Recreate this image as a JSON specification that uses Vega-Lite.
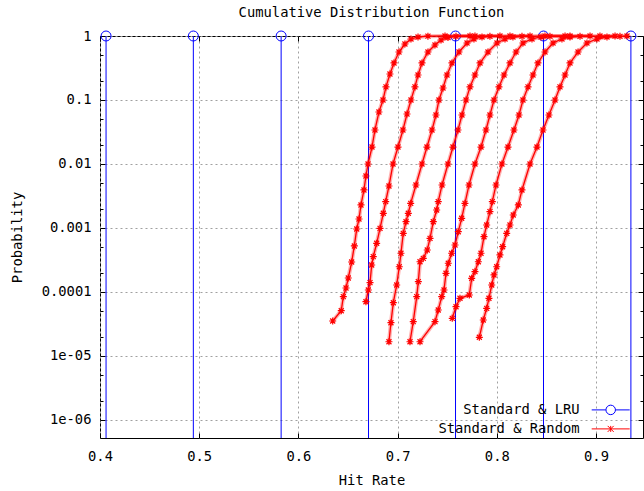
{
"$schema": "https://vega.github.io/schema/vega-lite/v6.json",
"width": 543, "height": 402,
"autosize": {"type": "none"},
"padding": {"left": 100, "top": 36, "right": 1, "bottom": 53},
"background": "white",
"title": {"text": "Cumulative Distribution Function", "frame": "group", "anchor": "middle", "baseline": "alphabetic", "offset": 5, "dy": 8, "font": "DejaVu Sans Mono", "fontSize": 13.8, "fontWeight": "normal", "color": "#000"},
"config": {
  "view": {"stroke": "#000", "strokeWidth": 1},
  "axis": {"labelFont": "DejaVu Sans Mono", "labelFontSize": 13.8, "labelColor": "#000", "titleFont": "DejaVu Sans Mono", "titleFontSize": 13.8, "titleFontWeight": "normal", "titleColor": "#000", "domain": false, "tickColor": "#000", "gridColor": "#a0a0a0", "gridDash": [2,3], "gridWidth": 1}
},
"datasets": {
  "lru": [{"c":1,"x":0.4061,"p":1},{"c":2,"x":0.4941,"p":1},{"c":3,"x":0.5826,"p":1},{"c":4,"x":0.6707,"p":1},{"c":5,"x":0.7584,"p":1},{"c":6,"x":0.8471,"p":1},{"c":7,"x":0.9352,"p":1}],
  "rnd": [
{"c":1,"x":0.6346,"p":3.52e-5},{"c":1,"x":0.6432,"p":5.1e-5},{"c":1,"x":0.6453,"p":8.45e-5},{"c":1,"x":0.648,"p":1.155e-4},{"c":1,"x":0.6503,"p":1.655e-4},{"c":1,"x":0.6537,"p":2.94e-4},{"c":1,"x":0.6564,"p":5.24e-4},{"c":1,"x":0.6588,"p":9.65e-4},{"c":1,"x":0.6611,"p":1.383e-3},{"c":1,"x":0.6631,"p":2.29e-3},{"c":1,"x":0.6661,"p":3.93e-3},{"c":1,"x":0.6681,"p":6.49e-3},{"c":1,"x":0.6702,"p":0.01},{"c":1,"x":0.6742,"p":0.0184},{"c":1,"x":0.6772,"p":0.034},{"c":1,"x":0.6812,"p":0.0649},{"c":1,"x":0.6853,"p":0.1},{"c":1,"x":0.6883,"p":0.16},{"c":1,"x":0.6923,"p":0.255},{"c":1,"x":0.6964,"p":0.379},{"c":1,"x":0.7014,"p":0.562},{"c":1,"x":0.7074,"p":0.75},{"c":1,"x":0.7135,"p":0.898},{"c":1,"x":0.7206,"p":0.965},{"c":1,"x":0.7306,"p":0.993},{"c":1,"x":0.7478,"p":1},{"c":1,"x":0.773,"p":1},
{"c":2,"x":0.6681,"p":7.05e-5},{"c":2,"x":0.6705,"p":1.075e-4},{"c":2,"x":0.6722,"p":1.397e-4},{"c":2,"x":0.6739,"p":2.64e-4},{"c":2,"x":0.6755,"p":3.56e-4},{"c":2,"x":0.6789,"p":5.77e-4},{"c":2,"x":0.6823,"p":9.89e-4},{"c":2,"x":0.6856,"p":1.698e-3},{"c":2,"x":0.688,"p":2.58e-3},{"c":2,"x":0.6913,"p":4.53e-3},{"c":2,"x":0.6954,"p":0.01},{"c":2,"x":0.7004,"p":0.0184},{"c":2,"x":0.7054,"p":0.034},{"c":2,"x":0.7095,"p":0.0604},{"c":2,"x":0.7135,"p":0.1},{"c":2,"x":0.7175,"p":0.16},{"c":2,"x":0.7206,"p":0.246},{"c":2,"x":0.7246,"p":0.379},{"c":2,"x":0.7306,"p":0.562},{"c":2,"x":0.7377,"p":0.723},{"c":2,"x":0.7438,"p":0.866},{"c":2,"x":0.7508,"p":0.947},{"c":2,"x":0.7589,"p":0.989},{"c":2,"x":0.778,"p":1},{"c":2,"x":0.8032,"p":1},
{"c":3,"x":0.6913,"p":1.67e-5},{"c":3,"x":0.6933,"p":3.31e-5},{"c":3,"x":0.6957,"p":6.8e-5},{"c":3,"x":0.6991,"p":1.286e-4},{"c":3,"x":0.7017,"p":2.48e-4},{"c":3,"x":0.7034,"p":4.03e-4},{"c":3,"x":0.7057,"p":8.26e-4},{"c":3,"x":0.7085,"p":1.254e-3},{"c":3,"x":0.7108,"p":1.698e-3},{"c":3,"x":0.7132,"p":2.43e-3},{"c":3,"x":0.7185,"p":4.7e-3},{"c":3,"x":0.7246,"p":0.01},{"c":3,"x":0.7296,"p":0.0184},{"c":3,"x":0.7347,"p":0.034},{"c":3,"x":0.7387,"p":0.0583},{"c":3,"x":0.7417,"p":0.1},{"c":3,"x":0.7458,"p":0.154},{"c":3,"x":0.7498,"p":0.246},{"c":3,"x":0.7548,"p":0.379},{"c":3,"x":0.7619,"p":0.562},{"c":3,"x":0.77,"p":0.777},{"c":3,"x":0.777,"p":0.898},{"c":3,"x":0.7851,"p":0.965},{"c":3,"x":0.7931,"p":0.989},{"c":3,"x":0.8133,"p":1},{"c":3,"x":0.8335,"p":1},
{"c":4,"x":0.7125,"p":1.67e-5},{"c":4,"x":0.7158,"p":3.44e-5},{"c":4,"x":0.7193,"p":8.45e-5},{"c":4,"x":0.7209,"p":1.449e-4},{"c":4,"x":0.7226,"p":2.97e-4},{"c":4,"x":0.7259,"p":3.36e-4},{"c":4,"x":0.7299,"p":4.53e-4},{"c":4,"x":0.7327,"p":6.9e-4},{"c":4,"x":0.736,"p":1.254e-3},{"c":4,"x":0.7394,"p":1.91e-3},{"c":4,"x":0.741,"p":2.58e-3},{"c":4,"x":0.7448,"p":4.7e-3},{"c":4,"x":0.7508,"p":0.01},{"c":4,"x":0.7558,"p":0.0184},{"c":4,"x":0.7609,"p":0.034},{"c":4,"x":0.7649,"p":0.0583},{"c":4,"x":0.769,"p":0.1},{"c":4,"x":0.773,"p":0.16},{"c":4,"x":0.778,"p":0.246},{"c":4,"x":0.7831,"p":0.379},{"c":4,"x":0.7911,"p":0.562},{"c":4,"x":0.8002,"p":0.777},{"c":4,"x":0.8083,"p":0.898},{"c":4,"x":0.8163,"p":0.965},{"c":4,"x":0.8254,"p":0.989},{"c":4,"x":0.8486,"p":1},{"c":4,"x":0.8688,"p":1},
{"c":5,"x":0.7226,"p":1.67e-5},{"c":5,"x":0.7377,"p":3.44e-5},{"c":5,"x":0.741,"p":5.23e-5},{"c":5,"x":0.7445,"p":8.45e-5},{"c":5,"x":0.7468,"p":1.075e-4},{"c":5,"x":0.7488,"p":1.96e-4},{"c":5,"x":0.7511,"p":2.81e-4},{"c":5,"x":0.7545,"p":4.03e-4},{"c":5,"x":0.7579,"p":5.42e-4},{"c":5,"x":0.7612,"p":8.75e-4},{"c":5,"x":0.7646,"p":1.418e-3},{"c":5,"x":0.7679,"p":2.43e-3},{"c":5,"x":0.772,"p":4.7e-3},{"c":5,"x":0.778,"p":0.01},{"c":5,"x":0.7841,"p":0.0184},{"c":5,"x":0.7891,"p":0.034},{"c":5,"x":0.7931,"p":0.0583},{"c":5,"x":0.7972,"p":0.1},{"c":5,"x":0.8022,"p":0.16},{"c":5,"x":0.8073,"p":0.246},{"c":5,"x":0.8133,"p":0.379},{"c":5,"x":0.8194,"p":0.562},{"c":5,"x":0.8264,"p":0.777},{"c":5,"x":0.8355,"p":0.898},{"c":5,"x":0.8446,"p":0.965},{"c":5,"x":0.8536,"p":0.989},{"c":5,"x":0.8738,"p":1},{"c":5,"x":0.894,"p":1},
{"c":6,"x":0.7551,"p":3.88e-5},{"c":6,"x":0.7589,"p":5.89e-5},{"c":6,"x":0.7629,"p":7.97e-5},{"c":6,"x":0.7723,"p":8.98e-5},{"c":6,"x":0.7747,"p":1.637e-4},{"c":6,"x":0.778,"p":2.08e-4},{"c":6,"x":0.7814,"p":2.97e-4},{"c":6,"x":0.7841,"p":4.03e-4},{"c":6,"x":0.7871,"p":7.31e-4},{"c":6,"x":0.7898,"p":1.114e-3},{"c":6,"x":0.7931,"p":1.8e-3},{"c":6,"x":0.7955,"p":2.58e-3},{"c":6,"x":0.7992,"p":4.7e-3},{"c":6,"x":0.8052,"p":0.01},{"c":6,"x":0.8113,"p":0.0184},{"c":6,"x":0.8173,"p":0.034},{"c":6,"x":0.8224,"p":0.0583},{"c":6,"x":0.8264,"p":0.1},{"c":6,"x":0.8315,"p":0.16},{"c":6,"x":0.8365,"p":0.246},{"c":6,"x":0.8415,"p":0.379},{"c":6,"x":0.8486,"p":0.562},{"c":6,"x":0.8567,"p":0.777},{"c":6,"x":0.8657,"p":0.898},{"c":6,"x":0.8738,"p":0.965},{"c":6,"x":0.8839,"p":0.989},{"c":6,"x":0.904,"p":1},{"c":6,"x":0.9192,"p":1},
{"c":7,"x":0.7824,"p":1.96e-5},{"c":7,"x":0.7864,"p":3.65e-5},{"c":7,"x":0.7898,"p":5.56e-5},{"c":7,"x":0.7921,"p":7.97e-5},{"c":7,"x":0.7949,"p":1.286e-4},{"c":7,"x":0.7972,"p":1.845e-4},{"c":7,"x":0.7999,"p":2.48e-4},{"c":7,"x":0.8032,"p":3.79e-4},{"c":7,"x":0.8059,"p":5.1e-4},{"c":7,"x":0.81,"p":8.26e-4},{"c":7,"x":0.8133,"p":1.114e-3},{"c":7,"x":0.8166,"p":1.596e-3},{"c":7,"x":0.8217,"p":2.29e-3},{"c":7,"x":0.8254,"p":3.93e-3},{"c":7,"x":0.8335,"p":0.01},{"c":7,"x":0.8405,"p":0.0184},{"c":7,"x":0.8466,"p":0.034},{"c":7,"x":0.8526,"p":0.0583},{"c":7,"x":0.8587,"p":0.1},{"c":7,"x":0.8637,"p":0.16},{"c":7,"x":0.8688,"p":0.246},{"c":7,"x":0.8738,"p":0.379},{"c":7,"x":0.8819,"p":0.562},{"c":7,"x":0.8909,"p":0.777},{"c":7,"x":0.901,"p":0.898},{"c":7,"x":0.9111,"p":0.965},{"c":7,"x":0.9242,"p":0.989},{"c":7,"x":0.9313,"p":1}
  ]
},
"layer": [
  {
    "data": {"name": "lru"},
    "mark": {"type": "rule", "color": "#0000ff", "strokeWidth": 1},
    "encoding": {
      "x": {"field": "x", "type": "quantitative", "scale": {"type": "linear", "domain": [0.4, 0.9474], "nice": false, "zero": false},
        "axis": {"orient": "bottom", "values": [0.4,0.5,0.6,0.7,0.8,0.9], "format": ".1f", "title": "Hit Rate", "grid": true, "tickSize": -5, "labelPadding": 16, "labelBaseline": "top", "labelFlush": false, "titleY": 42, "titleBaseline": "middle"}},
      "y": {"field": "p", "type": "quantitative", "scale": {"type": "log", "domain": [5.23e-7, 1], "nice": false},
        "axis": {"orient": "left", "values": [1,0.5,0.2,0.1,0.05,0.02,0.01,0.005,0.002,0.001,0.0005,0.0002,0.0001,0.00005,0.00002,0.00001,0.000005,0.000002,0.000001],
          "labelExpr": "(abs(log(datum.value)/LN10 - round(log(datum.value)/LN10)) > 0.01) ? '' : datum.value > 0.5 ? '1' : datum.value > 0.05 ? '0.1' : datum.value > 0.005 ? '0.01' : datum.value > 0.0005 ? '0.001' : datum.value > 0.00005 ? '0.0001' : datum.value > 0.000005 ? '1e-05' : '1e-06'",
          "title": "Probability", "grid": true,
          "gridOpacity": {"condition": {"test": "abs(log(datum.value)/LN10 - round(log(datum.value)/LN10)) < 0.01", "value": 1}, "value": 0},
          "tickSize": {"condition": {"test": "abs(log(datum.value)/LN10 - round(log(datum.value)/LN10)) < 0.01", "value": -5}, "value": -3},
          "labelPadding": 14, "labelFlush": false, "titleX": -83, "titleBaseline": "middle"}},
      "y2": {"datum": 5.23e-7}
    }
  },
  {
    "data": {"name": "lru"},
    "mark": {"type": "point", "filled": false, "strokeWidth": 1, "opacity": 1, "shape": "M-1,0A1,1 0 1,1 1,0A1,1 0 1,1 -1,0Z", "size": 100},
    "encoding": {
      "x": {"field": "x", "type": "quantitative", "axis": null},
      "y": {"field": "p", "type": "quantitative", "axis": null},
      "color": {"datum": "Standard & LRU", "type": "nominal",
        "scale": {"domain": ["Standard & LRU", "Standard & Random"], "range": ["#0000ff", "#ff0000"]},
        "legend": {"orient": "none", "legendX": 503.8, "legendY": 367, "title": null, "labelAlign": "right", "labelOffset": -38, "labelFont": "DejaVu Sans Mono", "labelFontSize": 13.8, "labelColor": "#000", "symbolSize": 100, "symbolStrokeWidth": 1, "symbolFillColor": "transparent", "rowPadding": 4, "padding": 0,
          "symbolType": {"expr": "datum.value == 'Standard & LRU' ? 'M-3.8,0L-0.95,0M0.95,0L3.8,0M-0.95,0A0.95,0.95 0 1,1 0.95,0A0.95,0.95 0 1,1 -0.95,0' : 'M-3.8,0L3.8,0M0,-0.6L0,0.6M-0.6,-0.6L0.6,0.6M-0.6,0.6L0.6,-0.6'"}}}
    }
  },
  {
    "data": {"name": "rnd"},
    "mark": {"type": "line", "color": "#ff0000", "strokeWidth": 4, "opacity": 0.3},
    "encoding": {
      "x": {"field": "x", "type": "quantitative", "axis": null},
      "y": {"field": "p", "type": "quantitative", "axis": null},
      "detail": {"field": "c", "type": "nominal"}
    }
  },
  {
    "data": {"name": "rnd"},
    "mark": {"type": "line", "color": "#ff0000", "strokeWidth": 1.3},
    "encoding": {
      "x": {"field": "x", "type": "quantitative", "axis": {"orient": "top", "values": [0.4,0.5,0.6,0.7,0.8,0.9], "labels": false, "grid": false, "tickSize": -5, "title": null}},
      "y": {"field": "p", "type": "quantitative", "axis": {"orient": "right", "values": [1,0.5,0.2,0.1,0.05,0.02,0.01,0.005,0.002,0.001,0.0005,0.0002,0.0001,0.00005,0.00002,0.00001,0.000005,0.000002,0.000001], "labels": false, "grid": false,
          "tickSize": {"condition": {"test": "abs(log(datum.value)/LN10 - round(log(datum.value)/LN10)) < 0.01", "value": -5}, "value": -3}, "title": null}},
      "detail": {"field": "c", "type": "nominal"}
    }
  },
  {
    "data": {"name": "rnd"},
    "mark": {"type": "point", "filled": false, "strokeWidth": 1.2, "opacity": 1, "shape": "M-0.7,0L0.7,0M0,-0.7L0,0.7M-0.5,-0.5L0.5,0.5M-0.5,0.5L0.5,-0.5", "size": 100},
    "encoding": {
      "x": {"field": "x", "type": "quantitative", "axis": null},
      "y": {"field": "p", "type": "quantitative", "axis": null},
      "color": {"datum": "Standard & Random", "type": "nominal",
        "legend": {"orient": "none", "legendX": 503.8, "legendY": 367, "title": null, "labelAlign": "right", "labelOffset": -38, "labelFont": "DejaVu Sans Mono", "labelFontSize": 13.8, "labelColor": "#000", "symbolSize": 100, "symbolStrokeWidth": 1, "symbolFillColor": "transparent", "rowPadding": 4, "padding": 0,
          "symbolType": {"expr": "datum.value == 'Standard & LRU' ? 'M-3.8,0L-0.95,0M0.95,0L3.8,0M-0.95,0A0.95,0.95 0 1,1 0.95,0A0.95,0.95 0 1,1 -0.95,0' : 'M-3.8,0L3.8,0M0,-0.6L0,0.6M-0.6,-0.6L0.6,0.6M-0.6,0.6L0.6,-0.6'"}}}
    }
  }
],
"resolve": {"axis": {"x": "independent", "y": "independent"}}
}
